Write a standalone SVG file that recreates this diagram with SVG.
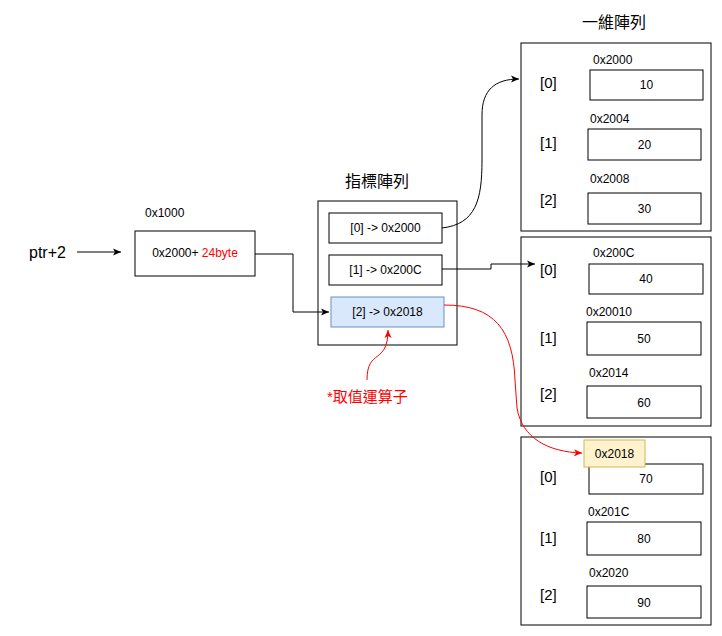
<svg xmlns="http://www.w3.org/2000/svg" width="722" height="636" viewBox="0 0 722 636">
<style>
text{font-family:"Liberation Sans",Arial,"Noto Sans CJK TC",sans-serif;fill:#000}
.box{fill:#fff;stroke:#000;stroke-width:1}
.s{font-size:12px;text-anchor:middle;dominant-baseline:central}
.a{font-size:12px;dominant-baseline:central}
.l{font-size:15px;dominant-baseline:central}
.t{font-size:16px;text-anchor:middle;dominant-baseline:central}
.c{fill:none;stroke:#000;stroke-width:1}
.r{fill:none;stroke:#ff0000;stroke-width:1}
</style>
<defs>
<marker id="ab" markerWidth="10" markerHeight="10" refX="8" refY="5" orient="auto" markerUnits="userSpaceOnUse"><path d="M0,1.5 L8,5 L0,8.5 L2,5 Z" fill="#000"/></marker>
<marker id="ar" markerWidth="10" markerHeight="10" refX="8" refY="5" orient="auto" markerUnits="userSpaceOnUse"><path d="M0,1.5 L8,5 L0,8.5 L2,5 Z" fill="#ff0000"/></marker>
</defs>
<g id="ptr"><text x="29" y="252" font-size="16" style="dominant-baseline:central">ptr+2</text></g>
<g id="var">
<text class="a" x="145" y="213">0x1000</text>
<rect class="box" x="135" y="231" width="120" height="45"/>
<text class="s" x="195" y="253">0x2000+ <tspan fill="#ff0000" style="fill:#ff0000">24byte</tspan></text>
</g>
<g id="ptrarr">
<text class="t" x="377" y="181">指標陣列</text>
<rect class="box" x="318" y="201" width="139" height="144"/>
<rect class="box" x="329" y="213" width="113" height="30"/>
<text class="s" x="385.5" y="228">[0] -&gt; 0x2000</text>
<rect class="box" x="329" y="255" width="113" height="30"/>
<text class="s" x="385.5" y="270">[1] -&gt; 0x200C</text>
<rect x="331" y="297" width="113" height="30" fill="#dae8fc" stroke="#6c8ebf"/>
<text class="s" x="387.5" y="312">[2] -&gt; 0x2018</text>
</g>
<g id="arr1">
<text class="t" x="614" y="22">一維陣列</text>
<rect class="box" x="521" y="43" width="190" height="188"/>
<text class="l" x="540" y="82">[0]</text>
<text class="a" x="593" y="60">0x2000</text>
<rect class="box" x="590" y="70" width="113" height="30"/>
<text class="s" x="646.5" y="85">10</text>
<text class="l" x="540" y="142">[1]</text>
<text class="a" x="590" y="119">0x2004</text>
<rect class="box" x="588" y="129" width="113" height="31"/>
<text class="s" x="644.5" y="145">20</text>
<text class="l" x="540" y="199">[2]</text>
<text class="a" x="590" y="179">0x2008</text>
<rect class="box" x="588" y="193" width="113" height="31"/>
<text class="s" x="644.5" y="209">30</text>
</g>
<g id="arr2">
<rect class="box" x="521" y="237" width="190" height="189"/>
<text class="l" x="540" y="269">[0]</text>
<text class="a" x="593" y="253">0x200C</text>
<rect class="box" x="589" y="264" width="114" height="30"/>
<text class="s" x="646" y="279">40</text>
<text class="l" x="540" y="337">[1]</text>
<text class="a" x="586" y="312">0x20010</text>
<rect class="box" x="587" y="322" width="114" height="33"/>
<text class="s" x="644" y="339">50</text>
<text class="l" x="540" y="393">[2]</text>
<text class="a" x="589" y="373">0x2014</text>
<rect class="box" x="587" y="386" width="114" height="32"/>
<text class="s" x="644" y="403">60</text>
</g>
<g id="arr3">
<rect class="box" x="521" y="437" width="190" height="188"/>
<text class="l" x="540" y="476">[0]</text>
<rect class="box" x="589" y="464" width="114" height="30"/>
<text class="s" x="646" y="479">70</text>
<rect x="584" y="440" width="61" height="27" fill="#fff2cc" stroke="#d6b656"/>
<text class="s" x="614.5" y="454">0x2018</text>
<text class="l" x="540" y="537">[1]</text>
<text class="a" x="588" y="512">0x201C</text>
<rect class="box" x="587" y="522" width="114" height="33"/>
<text class="s" x="644" y="539">80</text>
<text class="l" x="540" y="594">[2]</text>
<text class="a" x="589" y="573">0x2020</text>
<rect class="box" x="587" y="586" width="114" height="32"/>
<text class="s" x="644" y="603">90</text>
</g>
<g id="label"><text x="327" y="396" font-size="15" style="fill:#ff0000;dominant-baseline:central">*取值運算子</text></g>
<g id="connectors">
<path class="c" d="M77 252 H121" marker-end="url(#ab)"/>
<path class="c" d="M255 254 H293 V312 H329" marker-end="url(#ab)"/>
<path class="c" d="M442 228 C476 224 482 200 482 160 L482 115 C482 90 495 79 519 79" marker-end="url(#ab)"/>
<path class="c" d="M442 269 H491 V264 H535" marker-end="url(#ab)"/>
<path class="r" d="M444 305 C495 305 513 330 515 380 L517 408 C522 438 548 452 582 453" marker-end="url(#ar)"/>
<path class="r" d="M367 380 C367 348 388 365 388 330" marker-end="url(#ar)"/>
</g>
</svg>
